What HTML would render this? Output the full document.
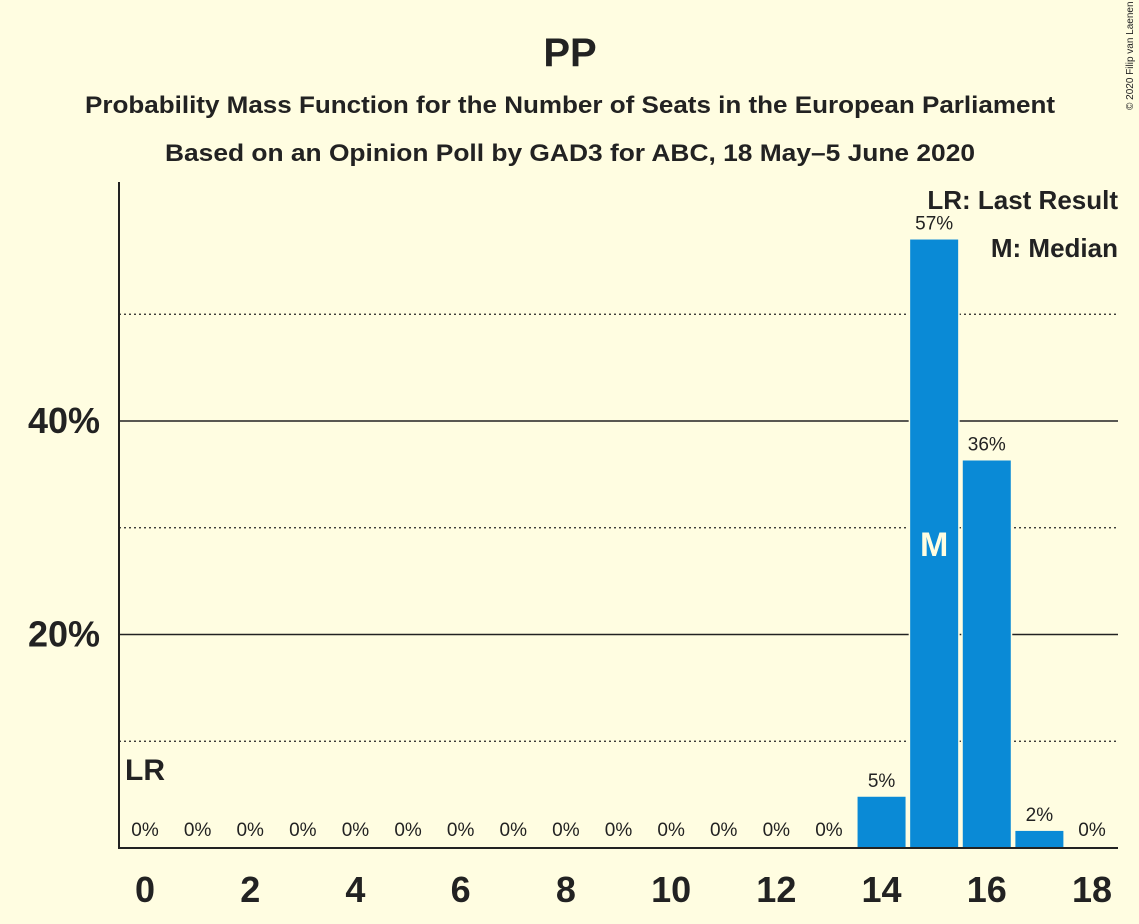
<!DOCTYPE html>
<html><head><meta charset="utf-8"><style>
body{margin:0;background:#fffde1;}
svg{display:block;font-family:"Liberation Sans",sans-serif;}
</style></head><body>
<svg id="chart" width="1139" height="924">
<rect width="1139" height="924" fill="#fffde1"/>
<text x="570" y="66" text-anchor="middle" font-size="40" font-weight="bold" fill="#222">PP</text>
<text x="570" y="113" text-anchor="middle" font-size="24" font-weight="bold" fill="#222" textLength="970" lengthAdjust="spacingAndGlyphs">Probability Mass Function for the Number of Seats in the European Parliament</text>
<text x="570" y="161" text-anchor="middle" font-size="24" font-weight="bold" fill="#222" textLength="810" lengthAdjust="spacingAndGlyphs">Based on an Opinion Poll by GAD3 for ABC, 18 May–5 June 2020</text>
<text x="1133" y="110" font-size="10" fill="#222" transform="rotate(-90 1133 110)">© 2020 Filip van Laenen</text>
<g id="grid"></g><g id="bars"></g><g id="labels"></g><g id="xt"></g><g id="yt"></g>
<line x1="119" y1="182" x2="119" y2="849" stroke="#222" stroke-width="2"/>
<line x1="118" y1="848" x2="1118" y2="848" stroke="#222" stroke-width="2"/>
<text x="1118" y="209" text-anchor="end" font-size="26" font-weight="bold" fill="#222">LR: Last Result</text>
<text x="1118" y="257" text-anchor="end" font-size="26" font-weight="bold" fill="#222">M: Median</text>
</svg>
<script>
const seats=[0,1,2,3,4,5,6,7,8,9,10,11,12,13,14,15,16,17,18];
const probs=[0,0,0,0,0,0,0,0,0,0,0,0,0,0,4.8,57.0,36.3,1.6,0];
const printed=["0%","0%","0%","0%","0%","0%","0%","0%","0%","0%","0%","0%","0%","0%","5%","57%","36%","2%","0%"];
const xTicks=[0,2,4,6,8,10,12,14,16,18];
const yTicks=[20,40];
const dotted=[10,30,50];
const medianSeat=15, lastResult=0;
const NS="http://www.w3.org/2000/svg";
const xs=s=>145+s*(1092-145)/18;
const ys=v=>848-v*10.675;
function mk(t,a,p,txt){const e=document.createElementNS(NS,t);for(const k in a)e.setAttribute(k,a[k]);if(txt!=null)e.textContent=txt;document.getElementById(p).appendChild(e);return e;}
dotted.forEach(v=>{const l=mk('line',{x1:119,x2:1118,y1:ys(v),y2:ys(v),stroke:'#222','stroke-width':1.3,'stroke-dasharray':'2,3'},'grid');

});
yTicks.forEach(v=>{const l=mk('line',{x1:119,x2:1118,y1:ys(v),y2:ys(v),stroke:'#222','stroke-width':1.6},'grid');


const t=mk('text',{x:100,y:ys(v)+12,'text-anchor':'end','font-size':36,'font-weight':'bold',fill:'#222'},'yt',v+'%');

});
seats.forEach((s,i)=>{const v=probs[i];const x=xs(s);
if(v>0){const r=mk('rect',{x:x-24,y:ys(v),width:48,height:848-ys(v),fill:'#0a8ad6',stroke:'#fffde1','stroke-width':3,'paint-order':'stroke'},'bars');

}
const lab=mk('text',{x:x,y:(v>0?ys(v)-10:836),'text-anchor':'middle','font-size':19,fill:'#222'},'labels',printed[i]);


if(s===medianSeat){const m=mk('text',{x:x,y:ys(v/2)+12,'text-anchor':'middle','font-size':34,'font-weight':'bold',fill:'#fffde1'},'labels','M');

}
if(s===lastResult){const m=mk('text',{x:x-20,y:780,'font-size':30,'font-weight':'bold',fill:'#222'},'labels','LR');

}});
xTicks.forEach(s=>{const t=mk('text',{x:xs(s),y:902,'text-anchor':'middle','font-size':36,'font-weight':'bold',fill:'#222'},'xt',s);

});
</script>
</body></html>
